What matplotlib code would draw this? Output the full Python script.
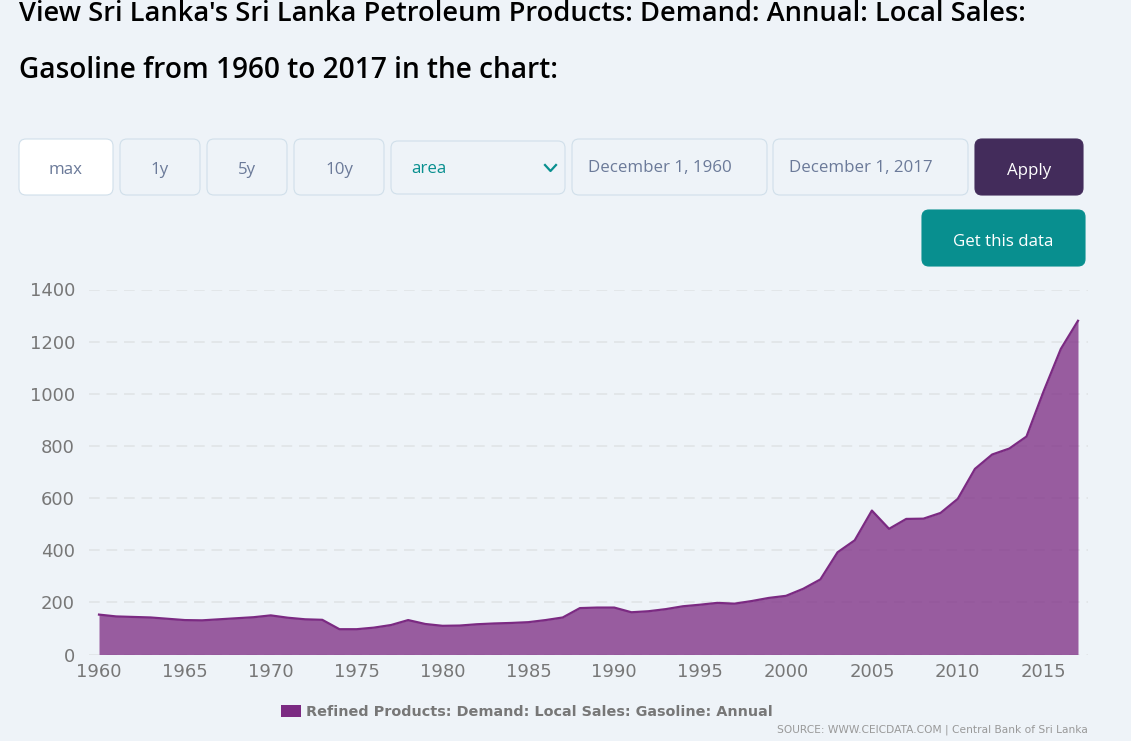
import matplotlib
matplotlib.use("Agg")
import matplotlib.pyplot as plt
from matplotlib.patches import FancyBboxPatch, Rectangle

# Valores
anos = list(range(1960, 2018))
vendas = [153, 146, 144, 142, 137, 132, 131, 135, 139, 143,
          150, 141, 135, 133, 97, 97, 103, 113, 132, 117,
          110, 111, 116, 119, 121, 124, 132, 142, 178, 180,
          180, 162, 166, 174, 185, 191, 198, 195, 205, 217,
          225, 252, 288, 392, 438, 552, 482, 520, 521, 543,
          597, 712, 767, 790, 836, 1010, 1172, 1280]
ticks_x = list(range(1960, 2016, 5))
ticks_y = [0, 200, 400, 600, 800, 1000, 1200, 1400]
titulo = ["View Sri Lanka's Sri Lanka Petroleum Products: Demand: Annual: Local Sales:",
          "Gasoline from 1960 to 2017 in the chart:"]
serie = "Refined Products: Demand: Local Sales: Gasoline: Annual"
fonte = "SOURCE: WWW.CEICDATA.COM | Central Bank of Sri Lanka"

FUNDO = "#EEF3F8"
BORDA = "#D0DFEA"
ROXO = "#7B2A82"
TEXTO_BOTAO = "#6B7A99"
TEAL = "#088F8F"
W, H = 1131, 741

fig = plt.figure(figsize=(W / 100, H / 100), dpi=100, facecolor=FUNDO)

# camada da página, em pixels
ui = fig.add_axes([0, 0, 1, 1])
ui.set_xlim(0, W)
ui.set_ylim(H, 0)
ui.axis("off")


def botao(x0, y0, x1, y1, texto, cor=FUNDO, borda=BORDA, cor_texto=TEXTO_BOTAO, tx=None, ty=None):
    ui.add_patch(FancyBboxPatch((x0 + 6, y0 + 6), x1 - x0 - 12, y1 - y0 - 12,
                                boxstyle="round,pad=6,rounding_size=7",
                                fc=cor, ec=borda, lw=0.8))
    tx = (x0 + x1) / 2 if tx is None else tx
    ty = (y0 + y1) / 2 + 3 if ty is None else ty
    ha = "center" if tx == (x0 + x1) / 2 else "left"
    ui.text(tx, ty, texto, ha=ha, va="center", color=cor_texto, fontsize=12.2,
            family="Open Sans")


ui.text(19, 21, titulo[0], fontsize=19.6, family="Open Sans", weight="semibold",
        color="black", va="baseline")
ui.text(19, 78, titulo[1], fontsize=20.2, family="Open Sans", weight="semibold",
        color="black", va="baseline")

botao(19, 139, 113, 195, "max", cor="white")
botao(120, 139, 200, 195, "1y")
botao(207, 139, 287, 195, "5y")
botao(294, 139, 384, 195, "10y")
botao(391, 141, 565, 194, "area", cor_texto=TEAL, tx=411, ty=169)
ui.plot([545, 550.5, 556], [165, 171, 165], color=TEAL, lw=1.6)
botao(572, 139, 767, 195, "December 1, 1960", tx=588, ty=168.5)
botao(773, 139, 968, 195, "December 1, 2017", tx=789, ty=168.5)
botao(975, 139, 1083, 195, "Apply", cor="#432C5B", borda="#432C5B", cor_texto="white", ty=171)
botao(922, 210, 1085, 266, "Get this data", cor=TEAL, borda=TEAL, cor_texto="white", ty=241.5)

# área do gráfico: eixo y 0 em 654.5 px e 1400 em 289.5 px
ax = fig.add_axes([89 / W, 1 - 654.5 / H, (1088 - 89) / W, 365 / H])
ax.patch.set_alpha(0)
ax.set_xlim(1960 - 10 / 17.17, 2017 + 10 / 17.17)
ax.set_ylim(0, 1400)
ax.fill_between(anos, vendas, color=ROXO, alpha=0.75, lw=0, zorder=3)
ax.plot(anos, vendas, color=ROXO, lw=1.6, zorder=4)
for s in ax.spines.values():
    s.set_visible(False)
ax.set_yticks(ticks_y)
ax.set_xticks(ticks_x)
ax.grid(axis="y", color="#E2E6E9", lw=1.4, ls=(0, (5.5, 3.5)), zorder=1)
ax.set_axisbelow(True)
ax.tick_params(length=0, labelsize=13, labelcolor="#777777")
ax.tick_params(axis="x", pad=6)
ax.tick_params(axis="y", pad=10)

# legenda e fonte
ui.add_patch(Rectangle((281, 705), 20, 12, fc=ROXO, ec="none"))
ui.text(306, 711.5, serie, fontsize=10.4, weight="bold", color="#777777", va="center",
        family="DejaVu Sans")
ui.text(1088, 729.5, fonte, fontsize=7.65, color="#999999", ha="right", va="center",
        family="DejaVu Sans")

fig.savefig("out.png", dpi=100, facecolor=FUNDO)
